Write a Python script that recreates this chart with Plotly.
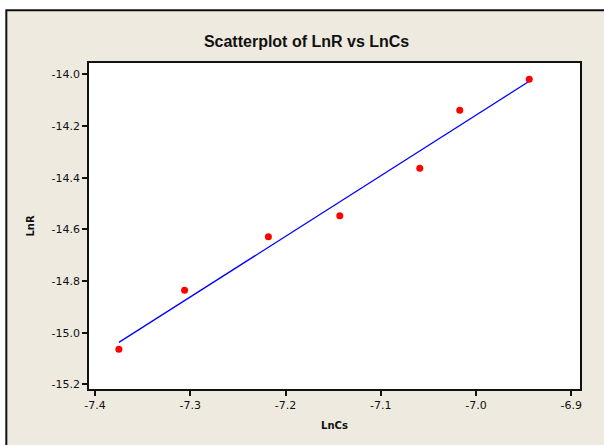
import numpy as np
import plotly.graph_objects as go

# Data
ln_cs = [-7.375, -7.306, -7.218, -7.143, -7.059, -7.017, -6.944]
ln_r = [-15.064, -14.836, -14.629, -14.547, -14.363, -14.139, -14.019]

x_ticks = [-7.4, -7.3, -7.2, -7.1, -7.0, -6.9]
y_ticks = [-15.2, -15.0, -14.8, -14.6, -14.4, -14.2, -14.0]

# Least-squares fit line
slope, intercept = np.polyfit(ln_cs, ln_r, 1)
fit_x = [min(ln_cs), max(ln_cs)]
fit_y = [slope * v + intercept for v in fit_x]

W, H = 604, 445
L, R, T, B = 89.4, 23.5, 62.7, 56.0
pw, ph = W - L - R, H - T - B

def px2x(px):
    return (px - L) / pw

def py2y(py):
    return (H - B - py) / ph

BEIGE = "#EEEAE0"

fig = go.Figure()
fig.add_trace(go.Scatter(x=fit_x, y=fit_y, mode="lines",
                         line=dict(color="#0000FF", width=1.3),
                         showlegend=False, hoverinfo="skip"))
fig.add_trace(go.Scatter(x=ln_cs, y=ln_r, mode="markers",
                         marker=dict(color="#FF0000", size=7, symbol="circle"),
                         showlegend=False))

axis_font = dict(family="DejaVu Sans, Liberation Sans", size=11, color="#111111")
title_font = dict(family="DejaVu Sans, Liberation Sans", size=10, color="#111111")

fig.update_layout(
    width=W, height=H,
    margin=dict(l=L, r=R, t=T, b=B, pad=0),
    paper_bgcolor="white",
    plot_bgcolor="white",
    title=dict(text="<b>Scatterplot of LnR vs LnCs</b>",
               font=dict(family="Liberation Sans, DejaVu Sans", size=16, color="#111111"),
               x=px2x(307), xref="paper", xanchor="center",
               y=1 - 41 / H, yref="container", yanchor="middle"),
    xaxis=dict(range=[-7.4064, -6.8907], tickvals=x_ticks,
               ticktext=[f"{v:.1f}" for v in x_ticks],
               ticks="outside", ticklen=5, tickwidth=1.5, tickcolor="#111111",
               showline=True, linecolor="#111111", linewidth=1.5, mirror=True,
               showgrid=False, zeroline=False, tickfont=axis_font,
               title=dict(text="<b>LnCs</b>", standoff=11, font=title_font)),
    yaxis=dict(range=[-15.218, -13.956], tickvals=y_ticks,
               ticktext=[f"{v:.1f}" for v in y_ticks],
               ticks="outside", ticklen=5, tickwidth=1.5, tickcolor="#111111",
               showline=True, linecolor="#111111", linewidth=1.5, mirror=True,
               showgrid=False, zeroline=False, tickfont=axis_font,
               title=dict(text="<b>LnR</b>", standoff=15, font=title_font)),
    shapes=[
        dict(type="rect", xref="paper", yref="paper", layer="below",
             x0=px2x(6.7), x1=px2x(615), y0=py2y(460), y1=py2y(10),
             fillcolor=BEIGE, line=dict(color="#111111", width=2)),
        dict(type="rect", xref="paper", yref="paper", layer="below",
             x0=0, x1=1, y0=0, y1=1, fillcolor="white", line=dict(width=0)),
    ],
)

fig.write_html("out.html")
